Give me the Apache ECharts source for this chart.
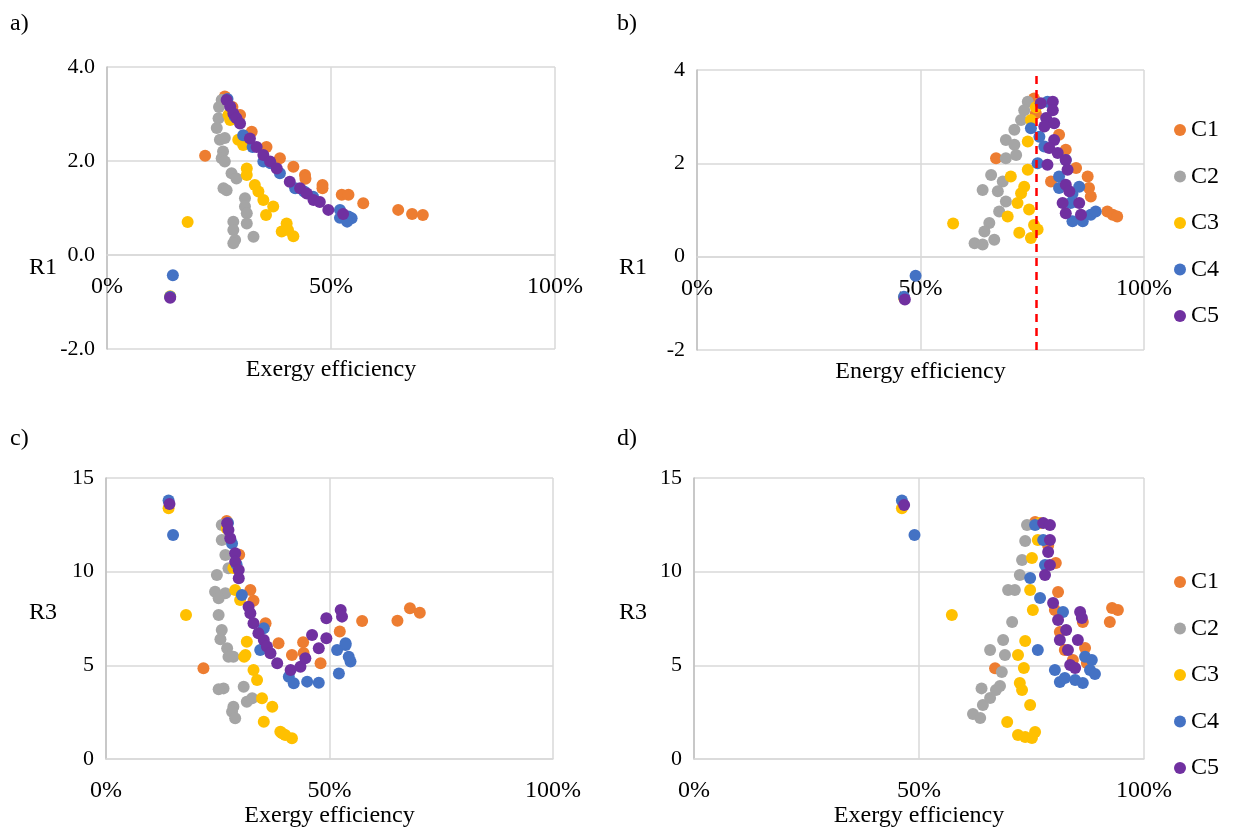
<!DOCTYPE html>
<html>
<head>
<meta charset="utf-8">
<script src="https://cdn.jsdelivr.net/npm/echarts@6/dist/echarts.min.js"></script>
<style>
  html, body { margin: 0; padding: 0; background: #fff; }
  #chart { width: 1240px; height: 831px; }
</style>
</head>
<body>
<div id="chart"></div>
<script>
// categories / colours
const seriesNames = ['C1', 'C2', 'C3', 'C4', 'C5'];
const seriesColors = ['#ED7D31', '#A5A5A5', '#FFC000', '#4472C4', '#7030A0'];
const effTicks = [0, 50, 100];      // efficiency, %
const r1Range = [-2, 4, 2];         // min, max, step
const r3Range = [0, 15, 5];
const energyLimit = 76;             // red dashed line in b), %

// a) exergy efficiency (%) vs R1
const aC1 = [[21.9,2.11],[26.3,3.37],[28.0,3.15],[29.7,2.98],[32.3,2.62],[35.6,2.30],[38.6,2.06],[41.6,1.88],[44.2,1.70],[44.3,1.62],[48.1,1.49],[48.1,1.42],[52.4,1.28],[53.9,1.28],[57.2,1.10],[65.0,0.96],[68.1,0.87],[70.5,0.85]];
const aC2 = [[25.6,3.30],[25.0,3.15],[24.9,2.91],[24.5,2.70],[25.2,2.45],[26.3,2.49],[25.9,2.20],[25.6,2.06],[26.3,1.99],[27.8,1.74],[28.9,1.63],[26.0,1.42],[26.7,1.38],[30.8,1.21],[30.8,1.03],[31.2,0.89],[31.2,0.67],[28.2,0.71],[28.2,0.53],[28.6,0.32],[28.2,0.25],[32.7,0.39]];
const aC3 = [[14.1,-0.88],[18.0,0.70],[26.8,3.30],[27.1,2.98],[27.5,2.87],[29.3,2.45],[30.4,2.34],[31.2,1.84],[31.2,1.70],[33.0,1.49],[33.8,1.35],[34.9,1.17],[37.1,1.03],[35.5,0.85],[40.1,0.67],[39.0,0.50],[40.4,0.53],[41.6,0.40]];
const aC4 = [[14.7,-0.43],[14.1,-0.89],[26.9,3.32],[28.5,2.95],[30.4,2.55],[32.5,2.30],[34.9,1.99],[36.5,1.95],[38.6,1.74],[42.0,1.42],[44.0,1.35],[46.0,1.24],[52.0,0.96],[52.0,0.79],[53.9,0.82],[54.6,0.78],[53.6,0.71]];
const aC5 = [[14.1,-0.91],[26.7,3.30],[27.5,3.16],[28.2,3.01],[28.9,2.91],[29.7,2.80],[31.9,2.48],[33.4,2.30],[34.9,2.13],[36.4,1.99],[37.9,1.84],[40.8,1.56],[43.1,1.42],[44.6,1.31],[46.1,1.17],[47.5,1.13],[49.4,0.96],[52.7,0.87]];

// b) energy efficiency (%) vs R1
const bC1 = [[66.9,2.11],[75.4,3.39],[75.8,3.07],[81.0,2.61],[82.5,2.29],[84.8,1.90],[87.4,1.72],[87.7,1.47],[88.1,1.29],[79.2,1.61],[91.8,0.97],[93.0,0.90],[94.0,0.86]];
const bC2 = [[74.0,3.32],[73.2,3.14],[72.5,2.93],[71.0,2.72],[69.1,2.50],[71.0,2.40],[69.1,2.11],[71.4,2.18],[65.8,1.75],[68.4,1.61],[63.9,1.43],[67.3,1.40],[69.1,1.18],[67.6,0.97],[65.4,0.72],[64.3,0.54],[62.1,0.29],[63.9,0.26],[66.5,0.36]];
const bC3 = [[46.3,-0.88],[57.3,0.71],[75.8,3.20],[74.7,2.93],[74.0,2.47],[74.0,1.86],[70.2,1.72],[73.2,1.50],[72.5,1.36],[71.7,1.15],[74.3,1.01],[69.5,0.86],[75.4,0.68],[72.1,0.51],[74.7,0.40],[76.2,0.58]];
const bC4 = [[48.9,-0.41],[46.3,-0.86],[78.4,3.32],[74.7,2.75],[76.6,2.57],[77.7,2.36],[76.2,2.00],[81.0,1.72],[81.0,1.47],[82.5,2.07],[83.6,1.15],[84.0,0.76],[86.3,0.76],[88.1,0.90],[89.2,0.97],[85.5,1.50],[84.0,1.35]];
const bC5 = [[46.5,-0.92],[76.9,3.29],[79.6,3.32],[79.6,3.14],[78.1,2.97],[79.9,2.86],[77.7,2.79],[79.9,2.50],[78.8,2.33],[80.7,2.22],[82.5,2.07],[78.4,1.97],[82.9,1.86],[82.5,1.54],[83.3,1.40],[81.8,1.15],[85.5,1.15],[82.5,0.93],[85.9,0.90]];

// c) exergy efficiency (%) vs R3
const cC1 = [[21.8,4.84],[27.0,12.70],[29.8,10.90],[32.3,9.02],[33.0,8.45],[35.7,7.25],[38.6,6.18],[41.6,5.55],[44.1,6.23],[44.2,5.66],[48.0,5.11],[52.3,6.80],[57.3,7.37],[65.2,7.38],[68.0,8.05],[70.2,7.81]];
const cC2 = [[25.9,12.49],[25.9,11.69],[26.7,10.89],[27.4,10.18],[24.8,9.82],[24.4,8.93],[26.7,8.85],[25.2,8.58],[25.2,7.69],[25.9,6.89],[25.6,6.39],[27.1,5.91],[28.5,5.46],[27.4,5.46],[26.3,3.77],[25.2,3.72],[30.8,3.86],[31.5,3.06],[32.7,3.24],[28.5,2.79],[28.2,2.52],[28.9,2.17]];
const cC3 = [[14.0,13.38],[17.9,7.69],[27.0,12.30],[28.5,10.20],[28.9,9.02],[30.0,8.49],[31.5,6.26],[30.9,5.46],[31.2,5.55],[33.0,4.75],[33.8,4.22],[34.9,3.24],[37.2,2.79],[35.3,1.99],[39.4,1.37],[41.6,1.11],[40.1,1.28],[39.0,1.46]];
const cC4 = [[14.0,13.80],[15.0,11.96],[27.3,12.60],[28.2,11.50],[29.2,10.40],[30.4,8.76],[35.3,6.98],[34.5,5.82],[40.9,4.39],[42.0,4.04],[45.0,4.13],[47.6,4.07],[52.1,4.57],[54.7,5.20],[54.3,5.46],[53.6,6.09],[51.7,5.82],[53.6,6.18]];
const cC5 = [[14.2,13.61],[27.1,12.58],[27.4,12.23],[27.8,11.78],[28.9,10.98],[28.9,10.53],[29.7,10.09],[29.7,9.65],[31.9,8.13],[32.3,7.78],[33.0,7.25],[34.1,6.71],[35.3,6.35],[36.0,6.00],[36.8,5.64],[38.3,5.11],[41.3,4.75],[43.5,4.93],[44.6,5.38],[46.1,6.62],[47.6,5.91],[49.3,6.44],[49.3,7.51],[52.5,7.96],[52.8,7.60]];

// d) energy efficiency (%) vs R3
const dC1 = [[66.9,4.84],[75.8,12.65],[78.7,11.40],[80.4,10.46],[80.9,8.92],[80.2,7.96],[81.3,6.78],[82.4,5.82],[84.2,5.29],[86.4,7.31],[86.9,5.93],[87.3,5.13],[92.4,7.31],[92.9,8.06],[94.2,7.96]];
const dC2 = [[62.0,2.40],[63.6,2.19],[64.2,2.88],[65.8,3.26],[67.1,3.68],[68.0,3.90],[68.4,4.64],[69.1,5.55],[68.7,6.35],[70.7,7.31],[69.8,9.02],[71.3,9.02],[72.4,9.82],[72.9,10.62],[73.6,11.64],[74.0,12.49],[63.9,3.77],[65.8,5.82]];
const dC3 = [[46.2,13.38],[57.3,7.69],[69.6,1.98],[72.0,1.28],[73.6,1.17],[75.1,1.12],[75.8,1.44],[74.7,2.88],[72.9,3.68],[72.4,4.06],[73.3,4.86],[72.0,5.55],[73.6,6.30],[75.3,7.96],[74.7,9.02],[75.1,10.73],[76.4,11.69],[76.9,12.60]];
const dC4 = [[46.2,13.80],[49.0,11.96],[75.8,12.49],[74.7,9.66],[77.6,11.69],[78.0,10.36],[76.9,8.60],[76.4,5.82],[80.2,4.75],[81.3,4.11],[82.4,4.32],[84.7,4.22],[86.4,4.06],[86.9,5.46],[88.0,4.75],[88.4,5.29],[89.1,4.54],[82.0,7.85]];
const dC5 = [[46.7,13.56],[77.6,12.60],[79.1,12.49],[79.1,11.69],[78.7,11.05],[78.0,9.82],[79.1,10.36],[79.8,8.33],[80.9,7.42],[81.3,6.35],[83.1,5.82],[83.6,5.02],[84.7,4.86],[85.3,6.35],[85.8,7.85],[86.2,7.53],[82.7,6.89]];

const panels = [
  { label: 'a)', yName: 'R1', xName: 'Exergy efficiency', data: [aC1, aC2, aC3, aC4, aC5], range: r1Range, grid: { left: 107, top: 67, width: 448, height: 282 } },
  { label: 'b)', yName: 'R1', xName: 'Energy efficiency', data: [bC1, bC2, bC3, bC4, bC5], range: r1Range, grid: { left: 697, top: 70, width: 447, height: 280 } },
  { label: 'c)', yName: 'R3', xName: 'Exergy efficiency', data: [cC1, cC2, cC3, cC4, cC5], range: r3Range, grid: { left: 106, top: 478, width: 447, height: 281 } },
  { label: 'd)', yName: 'R3', xName: 'Exergy efficiency', data: [dC1, dC2, dC3, dC4, dC5], range: r3Range, grid: { left: 694, top: 478, width: 450, height: 281 } }
];

const FONT = '"Liberation Serif", "Times New Roman", "DejaVu Serif", serif';
const gridColor = '#d9d9d9';

const chart = echarts.init(document.getElementById('chart'), null, { renderer: 'canvas' });

const grids = [], xAxes = [], yAxes = [], series = [], graphics = [];

panels.forEach(function (p, i) {
  grids.push(Object.assign({ containLabel: false }, p.grid));
  // the horizontal axis crosses the vertical one at 0 (Excel style):
  // shift it up from the bottom of the grid by the pixel distance of 0 from min
  const zeroShift = p.range[0] < 0 ? -p.grid.height * (0 - p.range[0]) / (p.range[1] - p.range[0]) : 0;
  xAxes.push({
    gridIndex: i,
    type: 'value',
    min: effTicks[0],
    max: effTicks[effTicks.length - 1],
    interval: effTicks[1] - effTicks[0],
    offset: zeroShift,
    name: p.xName,
    nameLocation: 'middle',
    nameGap: zeroShift ? 103 : 44,
    nameTextStyle: { fontFamily: FONT, fontSize: 24, color: '#000' },
    axisLine: { onZero: false, lineStyle: { color: gridColor, width: 1.5 } },
    axisTick: { show: false },
    axisLabel: { formatter: '{value}%', fontFamily: FONT, fontSize: 24, color: '#000', margin: 20 },
    splitLine: { show: true, lineStyle: { color: gridColor, width: 1.5 } }
  });
  yAxes.push({
    gridIndex: i,
    type: 'value',
    min: p.range[0],
    max: p.range[1],
    interval: p.range[2],
    axisLine: { show: true, onZero: false, lineStyle: { color: '#bfbfbf', width: 1.5 } },
    axisTick: { show: false },
    axisLabel: {
      fontFamily: FONT, fontSize: 22, color: '#000', margin: 12,
      formatter: i === 0 ? function (v) { return v.toFixed(1); } : '{value}'
    },
    splitLine: { show: true, lineStyle: { color: gridColor, width: 1.5 } }
  });
  seriesNames.forEach(function (name, k) {
    const s = {
      name: name,
      type: 'scatter',
      xAxisIndex: i,
      yAxisIndex: i,
      data: p.data[k],
      symbol: 'circle',
      symbolSize: 12,
      itemStyle: { color: seriesColors[k], opacity: 1 },
      emphasis: { disabled: true }
    };
    if (i === 1 && k === seriesNames.length - 1) {
      s.markLine = {
        silent: true,
        symbol: 'none',
        label: { show: false },
        lineStyle: { color: '#FF0000', type: [8, 6], width: 2.5 },
        data: [{ xAxis: energyLimit }]
      };
    }
    series.push(s);
  });
  const lx = i % 2 === 0 ? 10 : 617;
  const ly = i < 2 ? 12 : 427;
  graphics.push({ type: 'text', left: lx, top: ly, style: { text: p.label, font: '24px ' + FONT, fill: '#000' } });
  graphics.push({ type: 'text', left: i % 2 === 0 ? 29 : 619, top: i < 2 ? 256 : 601, style: { text: p.yName, font: '24px ' + FONT, fill: '#000' } });
});

const legendBase = {
  orient: 'vertical',
  left: 1169,
  icon: 'circle',
  itemWidth: 12,
  itemHeight: 12,
  itemGap: 22.5,
  data: seriesNames,
  selectedMode: false,
  textStyle: { fontFamily: FONT, fontSize: 24, color: '#000', lineHeight: 24 }
};

chart.setOption({
  animation: false,
  backgroundColor: '#fff',
  grid: grids,
  xAxis: xAxes,
  yAxis: yAxes,
  legend: [
    Object.assign({ top: 113 }, legendBase),
    Object.assign({ top: 565 }, legendBase)
  ],
  graphic: graphics,
  series: series
});
</script>
</body>
</html>
